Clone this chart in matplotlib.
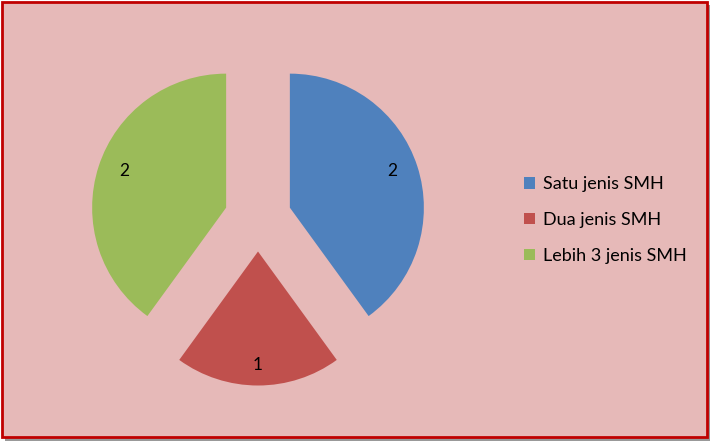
import matplotlib
matplotlib.use("Agg")
import matplotlib.pyplot as plt
from matplotlib.patches import Rectangle
import numpy as np

categories = ["Satu jenis SMH", "Dua jenis SMH", "Lebih 3 jenis SMH"]
values = [2, 1, 2]
colors = ["#4F81BD", "#C0504D", "#9BBB59"]
label_dist = [0.8, 0.88, 0.8]

W, H = 718, 446
fig = plt.figure(figsize=(W / 100, H / 100), dpi=100)
fig.patch.set_facecolor("white")

# shadow + background panel
fig.patches.append(Rectangle((5 / W, 1 - 441 / H), 705 / W, 436 / H, transform=fig.transFigure,
                             facecolor="#555555", edgecolor="none", alpha=0.6, zorder=-3))
fig.patches.append(Rectangle((2 / W, 1 - 437 / H), 705 / W, 435 / H, transform=fig.transFigure,
                             facecolor="#E6B9B8", edgecolor="#C00000", linewidth=2, zorder=-2))

ax = fig.add_axes([0, 0, 1, 1])
ax.set_facecolor("none")
ax.axis("off")
R = 134.0
cx, cy = 258.0, H - 218.0
wedges, _ = ax.pie(values, colors=colors, startangle=90, counterclock=False,
                   explode=[0.25] * 3, radius=1.0)
ax.set_aspect("auto")
ax.set_xlim(-cx / R, (W - cx) / R)
ax.set_ylim(-cy / R, (H - cy) / R)

for w, v, d in zip(wedges, values, label_dist):
    mid = np.deg2rad((w.theta1 + w.theta2) / 2 + (3 if v == 2 and w.theta1 > 0 and w.theta1 < 45 else 0))
    x0, y0 = w.center
    ax.text(x0 + d * w.r * np.cos(mid), y0 + d * w.r * np.sin(mid) + 0.03, str(v),
            ha="center", va="center", fontsize=12.5, family="Lato", color="black")

leg = fig.legend(wedges, categories, loc="center left",
                 bbox_to_anchor=(508 / W, 1 - 220 / H), frameon=False,
                 handlelength=0.6, handleheight=0.6, handletextpad=0.45,
                 labelspacing=1.1, prop={"family": "Lato", "size": 13})

fig.savefig("out.png", dpi=100, facecolor=fig.get_facecolor())
